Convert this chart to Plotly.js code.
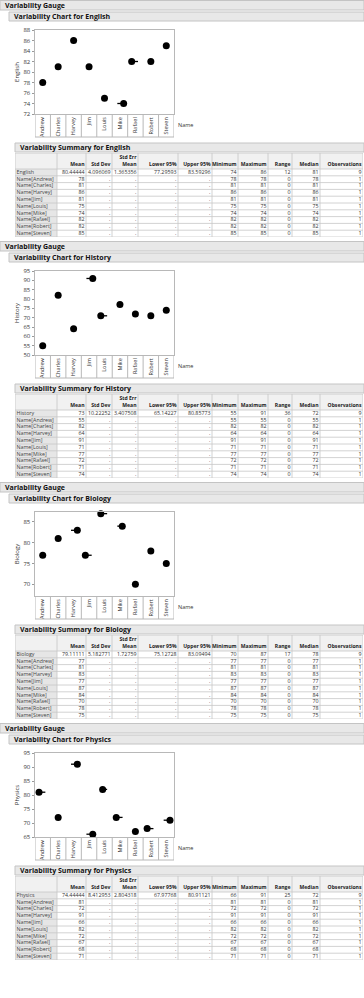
<!DOCTYPE html>
<html><head><meta charset="utf-8">
<script src="https://cdn.plot.ly/plotly-3.0.1.min.js"></script>
<style>html,body{margin:0;padding:0;background:#fff;}#chart{width:364px;height:998px;}</style>
</head><body><div id="chart"></div>
<script>
// ---------- DATA ----------
const names = ["Andrew","Charles","Harvey","Jim","Louis","Mike","Rafael","Robert","Steven"];
const subjects = ["English","History","Biology","Physics"];
const englishScores = [78,81,86,81,75,74,82,82,85];
const historyScores = [55,82,64,91,71,77,72,71,74];
const biologyScores = [77,81,83,77,87,84,70,78,75];
const physicsScores = [81,72,91,66,82,72,67,68,71];
// horizontal jitter of each point inside its cell
const englishJitter = [0,0,0,0,0,0.24,-0.24,0,0];
const historyJitter = [0,0,0,0.24,-0.24,0,0,0,0];
const biologyJitter = [0,0,0.24,-0.24,-0.24,0.15,0,0,0];
const physicsJitter = [-0.24,0,0.24,0.24,-0.12,-0.24,0,-0.24,0.24];
const summaryColumns = ["Mean","Std Dev","Std Err Mean","Lower 95%","Upper 95%","Minimum","Maximum","Range","Median","Observations"];
const englishSummary = ["80.44444","4.096069","1.365356","77.29593","83.59296","74","86","12","81","9"];
const historySummary = ["73","10.22252","3.407508","65.14227","80.85773","55","91","36","72","9"];
const biologySummary = ["79.11111","5.182771","1.72759","75.12728","83.09494","70","87","17","78","9"];
const physicsSummary = ["74.44444","8.412953","2.804318","67.97768","80.91121","66","91","25","72","9"];
const yTickStep = [2,5,5,5];

// ---------- LAYOUT HELPERS ----------
const W = 364, H = 998;
const px = v => v / W;
const py = v => 1 - v / H;
const FONT = "Open Sans";
const scores = [englishScores, historyScores, biologyScores, physicsScores];
const jitters = [englishJitter, historyJitter, biologyJitter, physicsJitter];
const summaries = [englishSummary, historySummary, biologySummary, physicsSummary];
const yRanges = [[72,88],[50,95],[67.2,87.4],[65,95]];
const P = 241;
const traces = [];
const shapes = [];
const annotations = [];
const layout = {
  width: W, height: H, margin: {l:0,r:0,t:0,b:0},
  paper_bgcolor: "#fff", plot_bgcolor: "#fff", showlegend: false,
  font: {family: FONT, size: 6, color: "#333"},
  shapes: shapes, annotations: annotations
};

function bar(x0, y0, y1, text, size) {
  shapes.push({type:"rect", xref:"paper", yref:"paper", x0:px(x0), x1:px(W), y0:py(y0), y1:py(y1),
    fillcolor:"#e8e8e8", line:{color:"#c4c4c4", width:1}, layer:"below"});
  annotations.push({xref:"paper", yref:"paper", x:px(x0+3), y:py((y0+y1)/2), xanchor:"left", yanchor:"middle",
    text:text, showarrow:false, font:{family:FONT, size:size, color:"#111", weight:"bold"}});
}

subjects.forEach((subj, s) => {
  const o = s * P;
  const xa = "x" + (2*s+1), ya = "y" + (2*s+1);
  const xk = "xaxis" + (2*s+1), yk = "yaxis" + (2*s+1);
  const vals = scores[s], jit = jitters[s];

  bar(0, o+0.5, o+10, "Variability Gauge", 7);
  bar(9, o+12, o+21, "Variability Chart for " + subj, 7);
  bar(15, o+143, o+152, "Variability Summary for " + subj, 7);

  // ---- variability chart ----
  const plotTop = o + 30, plotBot = o + 114, labBot = o + 137;
  layout[xk] = {domain:[px(35), px(174)], range:[-0.5, 8.5], anchor: ya,
    tickmode:"array", tickvals: names.map((n,i)=>i), ticktext: names, tickangle:-90,
    ticks:"", showgrid:false, zeroline:false, showline:true, mirror:true, linecolor:"#b8b8b8", linewidth:1,
    tickfont:{family:FONT, size:5.5, color:"#333"}, fixedrange:true};
  layout[yk] = {domain:[py(plotBot), py(plotTop)], range: yRanges[s], anchor: xa,
    dtick: yTickStep[s], tick0: 0, ticks:"outside", ticklen:2.5, tickcolor:"#999", tickwidth:1,
    showgrid:false, zeroline:false, showline:true, mirror:true, linecolor:"#b8b8b8", linewidth:1,
    tickfont:{family:FONT, size:6, color:"#3a3a3a"},
    title:{text: subj, font:{family:FONT, size:6, color:"#333"}, standoff:3}, fixedrange:true};
  // cell boxes under the plot
  for (let k = 0; k <= names.length; k++) {
    shapes.push({type:"line", xref:xa, yref:"paper", x0:k-0.5, x1:k-0.5, y0:py(plotBot), y1:py(labBot),
      line:{color:"#b8b8b8", width:1}});
  }
  shapes.push({type:"line", xref:xa, yref:"paper", x0:-0.5, x1:names.length-0.5, y0:py(labBot), y1:py(labBot),
    line:{color:"#b8b8b8", width:1}});
  annotations.push({xref:"paper", yref:"paper", x:px(176), y:py(o+125), xanchor:"left", yanchor:"middle",
    text:"Name", showarrow:false, font:{family:FONT, size:5.5, color:"#333"}});

  // cell mean ticks
  const mx = [], my = [];
  vals.forEach((v,i) => { mx.push(i-0.17, i+0.17, null); my.push(v, v, null); });
  traces.push({type:"scatter", mode:"lines", x:mx, y:my, xaxis:xa, yaxis:ya,
    line:{color:"#000", width:1.3}, hoverinfo:"skip", cliponaxis:false});
  traces.push({type:"scatter", mode:"markers", x: vals.map((v,i)=>i+jit[i]), y: vals, xaxis:xa, yaxis:ya,
    marker:{color:"#000", size:7}, cliponaxis:false});

  // ---- summary table ----
  const txa = "x" + (2*s+2), tya = "y" + (2*s+2);
  const colW = [42,29,26,26,40,34,26,30,24,28,43];
  const edges = [0]; colW.forEach(w => edges.push(edges[edges.length-1] + w));
  const TW = edges[edges.length-1];
  const headH = 16, rowH = 6.8;
  const rows = [{label: subj, cells: summaries[s]}].concat(
    names.map((n,i) => ({label: "Name[" + n + "]",
      cells: [String(vals[i]), ".", ".", ".", ".", String(vals[i]), String(vals[i]), String(vals[i]-vals[i]), String(vals[i]), "1"]})));
  const TH = headH + rows.length * rowH;
  const tTop = o + 153;
  layout["xaxis" + (2*s+2)] = {domain:[px(15), px(15+TW)], range:[0, TW], visible:false, anchor:tya, fixedrange:true};
  layout["yaxis" + (2*s+2)] = {domain:[py(tTop+TH), py(tTop)], range:[TH, 0], visible:false, anchor:txa, fixedrange:true};
  shapes.push({type:"rect", xref:txa, yref:tya, x0:0, x1:TW, y0:0, y1:headH, fillcolor:"#f1f1f1", line:{width:0}, layer:"below"});
  shapes.push({type:"rect", xref:txa, yref:tya, x0:0, x1:colW[0], y0:headH, y1:TH, fillcolor:"#e6e6e6", line:{width:0}, layer:"below"});
  const lx = [], ly = [];
  edges.forEach(e => { lx.push(e, e, null); ly.push(0, TH, null); });
  lx.push(0, TW, null); ly.push(0, 0, null);
  for (let r = 0; r <= rows.length; r++) { lx.push(0, TW, null); ly.push(headH + r*rowH, headH + r*rowH, null); }
  traces.push({type:"scatter", mode:"lines", x:lx, y:ly, xaxis:txa, yaxis:tya, line:{color:"#c6c6c6", width:0.8}, hoverinfo:"skip"});
  // header text
  const hx = [], hy = [], ht = [];
  summaryColumns.forEach((c, j) => {
    const xr = edges[j+2] - 1.5;
    if (c === "Std Err Mean") { hx.push(xr, xr); hy.push(4.5, 11.5); ht.push("<b>Std Err</b>", "<b>Mean</b>"); }
    else { hx.push(xr); hy.push(11.5); ht.push("<b>" + c + "</b>"); }
  });
  traces.push({type:"scatter", mode:"text", x:hx, y:hy, text:ht, xaxis:txa, yaxis:tya, textposition:"middle left",
    textfont:{family:FONT, size:5.1, color:"#222"}, cliponaxis:false, hoverinfo:"skip"});
  // body text
  const bx = [], by = [], bt = [], lxs = [], lys = [], lts = [];
  rows.forEach((row, r) => {
    const yc = headH + (r+0.5)*rowH;
    lxs.push(1.5); lys.push(yc); lts.push(row.label);
    row.cells.forEach((t, j) => { bx.push(edges[j+2] - 1.5); by.push(yc); bt.push(t); });
  });
  traces.push({type:"scatter", mode:"text", x:lxs, y:lys, text:lts, xaxis:txa, yaxis:tya, textposition:"middle right",
    textfont:{family:FONT, size:5.3, color:"#444"}, cliponaxis:false, hoverinfo:"skip"});
  traces.push({type:"scatter", mode:"text", x:bx, y:by, text:bt, xaxis:txa, yaxis:tya, textposition:"middle left",
    textfont:{family:FONT, size:5.3, color:"#333"}, cliponaxis:false, hoverinfo:"skip"});
});

Plotly.newPlot("chart", traces, layout, {displayModeBar:false, staticPlot:true});
</script></body></html>
